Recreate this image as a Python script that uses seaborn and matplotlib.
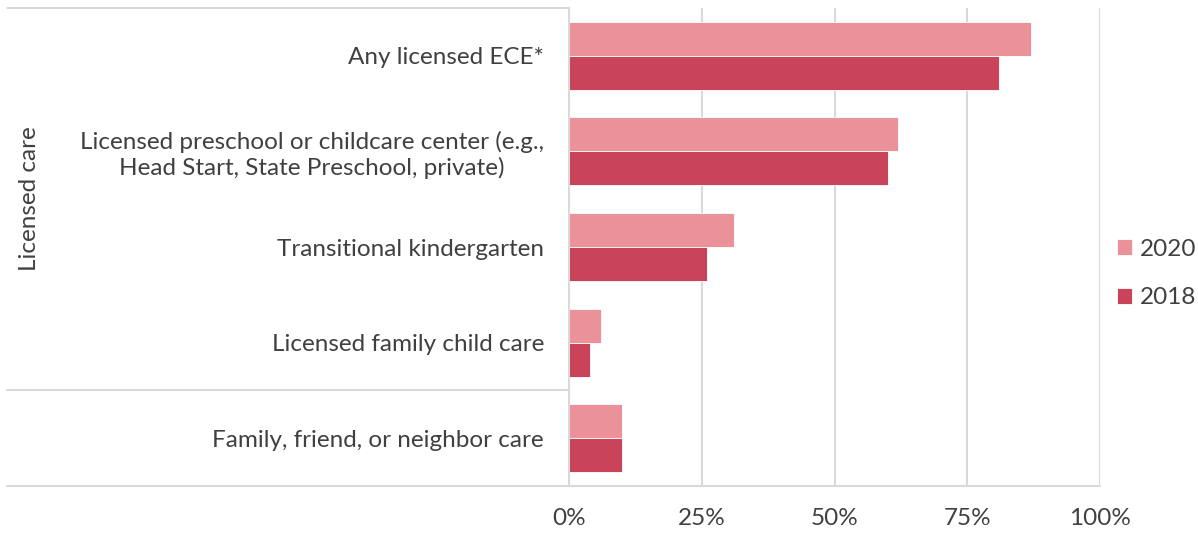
import matplotlib
matplotlib.use("Agg")
import matplotlib.pyplot as plt
import matplotlib.ticker as mticker
import pandas as pd
import seaborn as sns

# Share of children using each type of care, by survey year (%)
categories = [
    "Any licensed ECE*",
    "Licensed preschool or childcare center (e.g.,\nHead Start, State Preschool, private)",
    "Transitional kindergarten",
    "Licensed family child care",
    "Family, friend, or neighbor care",
]
years = ["2020", "2018"]
values_2020 = [87, 62, 31, 6, 10]
values_2018 = [81, 60, 26, 4, 10]
x_ticks = [0, 25, 50, 75, 100]
group_label = "Licensed care"

colors = {"2020": "#EB9199", "2018": "#C9445A"}
text_color = "#404040"
line_color = "#D9D9D9"
font_size = 17.5

df = pd.DataFrame({
    "category": categories * 2,
    "year": ["2020"] * len(categories) + ["2018"] * len(categories),
    "value": values_2020 + values_2018,
})

sns.set_theme(style="white")
plt.rcParams["font.family"] = ["Lato", "DejaVu Sans"]

fig = plt.figure(figsize=(11.98, 5.34), dpi=100)
ax = fig.add_axes([569 / 1198, 1 - 486 / 534, (1100 - 569) / 1198, (486 - 8) / 534])

sns.barplot(
    data=df, y="category", x="value", hue="year", order=categories,
    hue_order=years, palette=colors, orient="h", width=0.71, gap=0,
    edgecolor="white", linewidth=0.6, saturation=1, ax=ax, legend=True,
)

ax.set_xlim(0, 100)
ax.set_ylim(len(categories) - 0.5, -0.5)
ax.set_xticks(x_ticks)
ax.xaxis.set_major_formatter(mticker.FuncFormatter(lambda v, _: f"{v:.0f}%"))
ax.set_xlabel("")
ax.set_ylabel("")

for s in ["top", "right"]:
    ax.spines[s].set_visible(False)
ax.spines["left"].set_color(line_color)
ax.spines["left"].set_linewidth(1.5)
ax.spines["bottom"].set_visible(False)

ax.grid(axis="x", color=line_color, linewidth=1.5)
ax.set_axisbelow(True)
ax.tick_params(axis="x", length=6, width=1.5, color=line_color, direction="out",
               labelsize=font_size, labelcolor=text_color, pad=10)
ax.tick_params(axis="y", length=0, labelsize=font_size, labelcolor=text_color, pad=18)
for lbl in ax.get_yticklabels():
    lbl.set_multialignment("center")

# Category-axis frame lines extending left under the labels
left_ext = -(569 - 7) / (1100 - 569)
ax.axhline(-0.5, xmin=left_ext, xmax=0, color=line_color, lw=1.5, clip_on=False)
ax.axhline(3.5, xmin=left_ext, xmax=0, color=line_color, lw=1.5, clip_on=False)
ax.axhline(len(categories) - 0.5, xmin=left_ext, xmax=1, color=line_color, lw=1.5,
           clip_on=False)

fig.text(30 / 1198, 1 - 199 / 534, group_label, rotation=90, ha="center",
         va="center", fontsize=font_size, color=text_color)

leg = ax.legend(loc="center left",
                bbox_to_anchor=(1 + 17 / 531, (486 - 273.5) / 478),
                frameon=False, fontsize=font_size, handlelength=0.6,
                handleheight=0.6, handletextpad=0.35, labelspacing=1.15,
                borderpad=0, borderaxespad=0)
for t in leg.get_texts():
    t.set_color(text_color)

fig.savefig("out.png", dpi=100, facecolor="white")
